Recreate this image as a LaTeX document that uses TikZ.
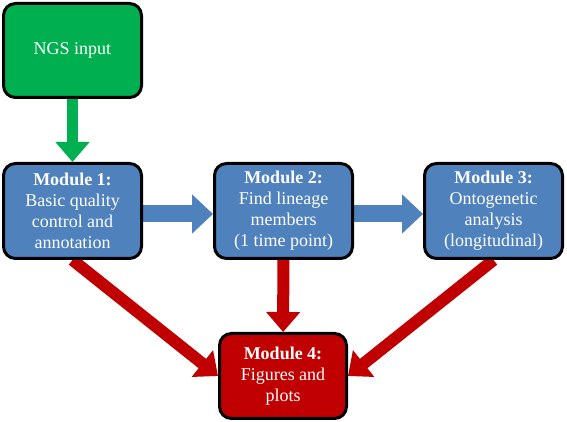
\documentclass[tikz,border=0pt]{standalone}
\usepackage{fontspec}
\setmainfont{Liberation Serif}
\usetikzlibrary{arrows.meta,backgrounds}
\definecolor{ngsgreen}{HTML}{00B050}
\definecolor{modblue}{HTML}{4F81BD}
\definecolor{modred}{HTML}{C00000}
\tikzset{
  module/.style={draw=black,line width=3pt,rounded corners=12pt,text=white,
    align=center,minimum width=138pt,minimum height=95pt,inner sep=2pt,
    font=\fontsize{18}{21}\selectfont},
  flow/.style={line width=#1},
}
\begin{document}
\begin{tikzpicture}[x=1pt,y=1pt]
\useasboundingbox (0,0) rectangle (567,422);
\node[module,fill=ngsgreen,minimum height=94pt] (ngs) at (72.5,371.5) {NGS input};
\node[module,fill=modblue] (m1) at (72.5,211) {\textbf{Module 1:}\\Basic quality\\control and\\annotation};
\node[module,fill=modblue] (m2) at (283.5,211) {\textbf{Module 2:}\\Find lineage\\members\\(1 time point)};
\node[module,fill=modblue] (m3) at (493.5,211) {\textbf{Module 3:}\\Ontogenetic\\analysis\\(longitudinal)};
\node[module,fill=modred,minimum width=127pt,minimum height=85pt] (m4) at (283,46) {\textbf{Module 4:}\\Figures and\\plots};
\begin{scope}[on background layer]
\draw[ngsgreen,flow=11pt,-{Triangle[width=33pt,length=20pt]}] (ngs) -- (m1);
\draw[modblue,flow=17pt,-{Triangle[width=38pt,length=21pt]}] ([yshift=-3pt]m1.east) -- ([yshift=-3pt]m2.west);
\draw[modblue,flow=17pt,-{Triangle[width=38pt,length=21pt]}] ([yshift=-3pt]m2.east) -- ([yshift=-3pt]m3.west);
\draw[modred,flow=12pt,-{Triangle[width=33pt,length=20pt]}] (m2) -- (m4);
\draw[modred,flow=12pt,-{Triangle[width=33pt,length=20pt]}] (m1.south) -- (m4.west);
\draw[modred,flow=12pt,-{Triangle[width=33pt,length=20pt]}] (m3.south) -- (m4.east);
\end{scope}
\end{tikzpicture}
\end{document}
